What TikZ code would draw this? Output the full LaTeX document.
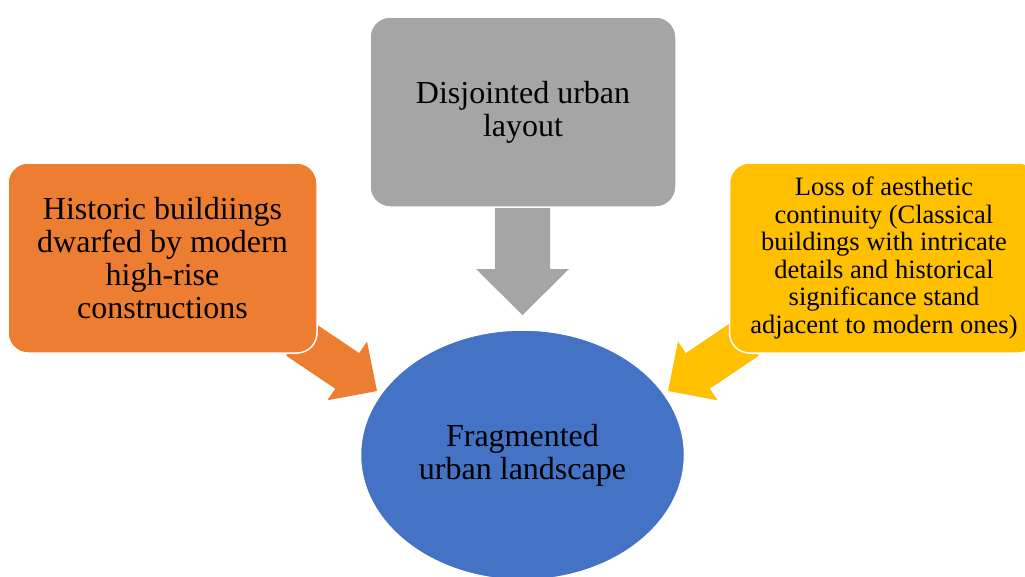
\documentclass[tikz,border=0pt]{standalone}
\usepackage{fontspec}
\setmainfont{Liberation Serif}
\newfontfamily\tnr{Liberation Serif}
\usetikzlibrary{shapes.geometric}
\definecolor{cOrange}{HTML}{ED7D31}
\definecolor{cGray}{HTML}{A5A5A5}
\definecolor{cYellow}{HTML}{FFC000}
\definecolor{cBlue}{HTML}{4472C4}
\tikzset{
  boxnode/.style={rectangle, rounded corners=20pt, draw=white, line width=1.5pt,
    minimum width=309pt, minimum height=190pt, inner sep=4pt, align=center, text=black},
  bigtext/.style={font=\tnr\fontsize{32}{33}\selectfont},
  smalltext/.style={font=\tnr\fontsize{26.5}{27.6}\selectfont},
}
\begin{document}
\begin{tikzpicture}[x=1pt,y=-1pt]
\useasboundingbox (0,0) rectangle (1025,576);
\clip (0,0) rectangle (1025,576);
% block arrows
\fill[cGray] (495,208) -- (550,208) -- (550,269) -- (569,269) -- (522.5,315) -- (476,269) -- (495,269) -- cycle;
\fill[cOrange] (310.2,320.1) -- (359.2,353.1) -- (367,341.5) -- (377,391) -- (327.4,400.3) -- (335.2,388.7) -- (286.2,355.7) -- cycle;
\fill[cYellow] (734.8,320.1) -- (685.8,353.1) -- (678,341.5) -- (668,391) -- (717.6,400.3) -- (709.8,388.7) -- (758.8,355.7) -- cycle;
% boxes
\node[boxnode, bigtext, fill=cGray, minimum width=306pt] (layout) at (523,112) {Disjointed urban\\layout};
\node[boxnode, bigtext, fill=cOrange] (historic) at (162.5,258) {Historic buildiings\\dwarfed by modern\\high-rise\\constructions};
\node[boxnode, smalltext, fill=cYellow] (loss) at (884,258) {Loss of aesthetic\\continuity (Classical\\buildings with intricate\\details and historical\\significance stand\\adjacent to modern ones)};
\node[ellipse, draw=white, line width=1.5pt, fill=cBlue, minimum width=324pt, minimum height=250pt, bigtext, align=center, inner sep=0pt] (frag) at (522.5,455) {Fragmented\\urban landscape};
\end{tikzpicture}
\end{document}
